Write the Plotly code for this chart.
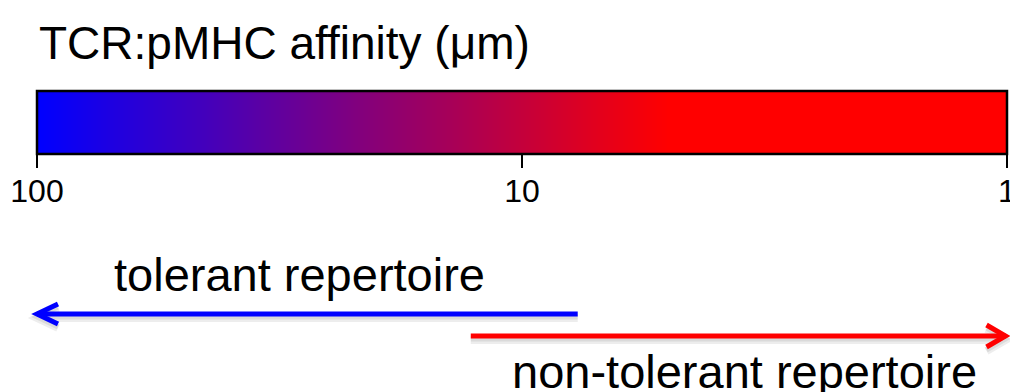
import numpy as np
import plotly.graph_objects as go

# ---- data ----
affinity_ticks = [100, 10, 1]            # µM, tick labels on the scale
scale_ends = [100, 1]                    # µM, extent of the colour bar
red_from_affinity = 5.0                  # µM, where the gradient reaches pure red
colors = {"blue": "#0000ff", "red": "#ff0000"}
title_text = "TCR:pMHC affinity (μm)"
label_tolerant = "tolerant repertoire"
label_nontolerant = "non-tolerant repertoire"

W, H = 1010, 392
# plot area in window pixels: x 37..1007.5, y 91..154
L = 37
R = W - 1007.5
T = 91
B = H - 154
plot_w = W - L - R
plot_h = H - T - B


def px(x):
    return (x - L) / plot_w


def py(y):
    return (H - B - y) / plot_h


xs = list(np.log10(scale_ends))
lo, hi = min(xs), max(xs)
red_norm = (np.log10(red_from_affinity) - lo) / (hi - lo)

fig = go.Figure()
fig.add_trace(go.Heatmap(
    x=xs, y=[0, 1], z=[xs, xs],
    zmin=lo, zmax=hi, zsmooth="best",
    colorscale=[[0, colors["red"]], [red_norm, colors["red"]], [1, colors["blue"]]],
    showscale=False, hoverinfo="skip",
))

font = "Liberation Sans, Arial, Helvetica, sans-serif"

shapes = [dict(type="rect", xref="paper", yref="paper", x0=0, x1=1, y0=0, y1=1,
               line=dict(color="black", width=2.5))]


def arrow(x0, x1, y, tipdx, tipdy, color):
    path_line = f"M {px(x0)} {py(y)} L {px(x1)} {py(y)}"
    head = f"M {px(x1 + tipdx)} {py(y - tipdy)} L {px(x1)} {py(y)} L {px(x1 + tipdx)} {py(y + tipdy)}"
    out = []
    for dy, col, w in [(4, "rgba(0,0,0,0.07)", 8), (3, "rgba(0,0,0,0.08)", 5)]:
        out.append(dict(type="path", xref="paper", yref="paper",
                        path=f"M {px(x0)} {py(y+dy)} L {px(x1)} {py(y+dy)} "
                             f"M {px(x1 + tipdx)} {py(y - tipdy + dy)} L {px(x1)} {py(y+dy)} L {px(x1 + tipdx)} {py(y + tipdy + dy)}",
                        line=dict(color=col, width=w)))
    out.append(dict(type="path", xref="paper", yref="paper", path=path_line,
                    line=dict(color=color, width=5)))
    out.append(dict(type="path", xref="paper", yref="paper", path=head,
                    line=dict(color=color, width=5)))
    return out


shapes += arrow(578, 37, 314, 21, 10, colors["blue"])
shapes += arrow(471, 1006, 336, -19, 11, colors["red"])

annotations = [
    dict(text=title_text, xref="paper", yref="paper", x=px(285), y=py(43),
         xanchor="center", yanchor="middle", showarrow=False,
         font=dict(family=font, size=46, color="black")),
    dict(text=label_tolerant, xref="paper", yref="paper", x=px(300), y=py(274),
         xanchor="center", yanchor="middle", showarrow=False,
         font=dict(family=font, size=47, color="black")),
    dict(text=label_nontolerant, xref="paper", yref="paper", x=px(745), y=py(371),
         xanchor="center", yanchor="middle", showarrow=False,
         font=dict(family=font, size=47, color="black")),
]

fig.update_layout(
    width=W, height=H,
    margin=dict(l=L, r=R, t=T, b=B, pad=0, autoexpand=False),
    paper_bgcolor="white", plot_bgcolor="white",
    shapes=shapes, annotations=annotations,
    xaxis=dict(range=[hi, lo], tickvals=list(np.log10(affinity_ticks)),
               ticktext=[str(v) for v in affinity_ticks],
               ticks="outside", ticklen=13, tickwidth=2, tickcolor="black",
               ticklabelstandoff=-4, ticklabeloverflow="allow", automargin=False,
               showgrid=False, zeroline=False, showline=False,
               tickfont=dict(family=font, size=32, color="black"), fixedrange=True),
    yaxis=dict(range=[0, 1], showticklabels=False, ticks="", showgrid=False,
               zeroline=False, fixedrange=True, automargin=False),
    showlegend=False,
)

fig.write_html(
    "out.html",
    config={"displayModeBar": False},
    post_script="document.body.style.margin='0';document.body.style.overflow='hidden';",
)
